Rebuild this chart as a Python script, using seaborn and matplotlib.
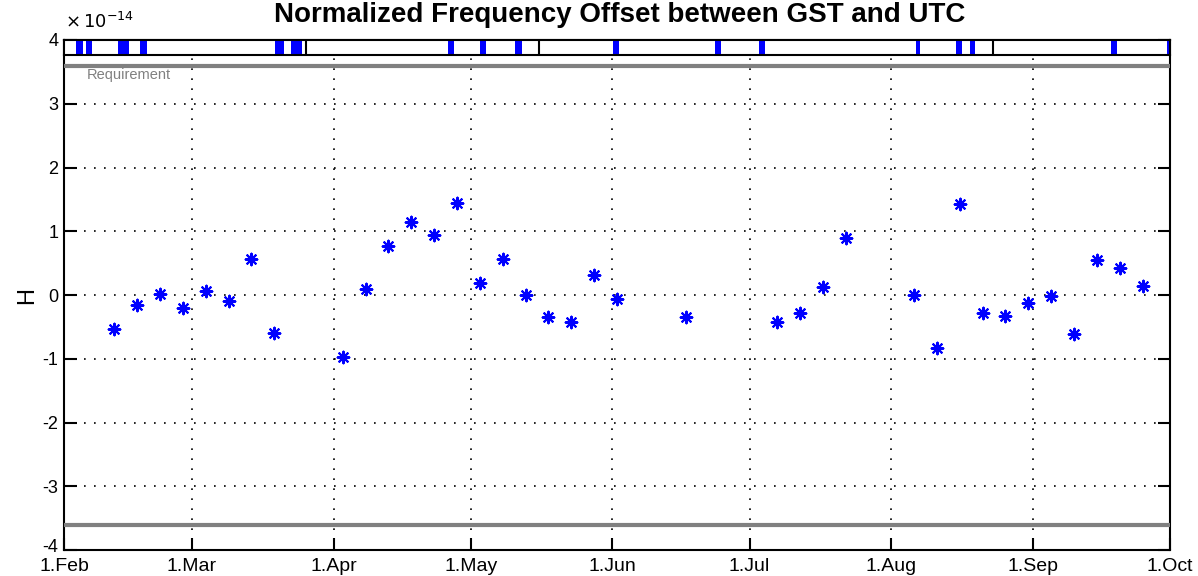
import numpy as np
import pandas as pd
import matplotlib
matplotlib.use("Agg")
import matplotlib.pyplot as plt
import matplotlib.dates as mdates
import matplotlib.transforms as mtransforms
import seaborn as sns

# ---- data -------------------------------------------------------------
dates = ["2015-02-12", "2015-02-17", "2015-02-22", "2015-02-27", "2015-03-04",
         "2015-03-09", "2015-03-14", "2015-03-19", "2015-04-03", "2015-04-08",
         "2015-04-13", "2015-04-18", "2015-04-23", "2015-04-28", "2015-05-03",
         "2015-05-08", "2015-05-13", "2015-05-18", "2015-05-23", "2015-05-28",
         "2015-06-02", "2015-06-17", "2015-07-07", "2015-07-12", "2015-07-17",
         "2015-07-22", "2015-08-06", "2015-08-11", "2015-08-16", "2015-08-21",
         "2015-08-26", "2015-08-31", "2015-09-05", "2015-09-10", "2015-09-15",
         "2015-09-20", "2015-09-25"]
offset_e14 = [-0.53, -0.16, 0.02, -0.20, 0.07, -0.10, 0.57, -0.60, -0.97, 0.10,
              0.77, 1.15, 0.94, 1.44, 0.19, 0.57, 0.00, -0.35, -0.43, 0.32,
              -0.07, -0.35, -0.43, -0.28, 0.12, 0.89, 0.00, -0.83, 1.42, -0.28,
              -0.33, -0.12, -0.02, -0.61, 0.55, 0.42, 0.14]

# events shown in the top strip: start (days after 1 Feb) and length (days)
event_start_day = [2.6, 4.8, 11.8, 16.6, 46.2, 49.7, 84.0, 91.0, 98.7, 120.1,
                   142.5, 152.0, 186.4, 195.2, 198.2, 229.1, 241.4]
event_len_day = [1.5, 1.3, 2.4, 1.6, 1.9, 2.4, 1.3, 1.3, 1.5, 1.3,
                 1.3, 1.4, 1.0, 1.3, 1.2, 1.3, 1.1]
period_breaks = ["2015-03-25 22:00", "2015-05-16 00:00", "2015-08-23 05:00"]

requirement = 3.6
x_start, x_end = "2015-02-01", "2015-10-01"
month_ticks = ["2015-02-01", "2015-03-01", "2015-04-01", "2015-05-01", "2015-06-01",
               "2015-07-01", "2015-08-01", "2015-09-01", "2015-10-01"]
y_ticks = [-4, -3, -2, -1, 0, 1, 2, 3, 4]

title = "Normalized Frequency Offset between GST and UTC"
ylabel = "H"
req_label = "Requirement"

# ---- style ------------------------------------------------------------
sns.set_style("white")
plt.rcParams["font.family"] = ["Liberation Sans", "DejaVu Sans"]
plt.rcParams["text.color"] = "black"
plt.rcParams["axes.labelcolor"] = "black"
plt.rcParams["xtick.color"] = "black"
plt.rcParams["ytick.color"] = "black"

df = pd.DataFrame({"date": pd.to_datetime(dates), "H": offset_e14})

fig = plt.figure(figsize=(11.98, 5.76), dpi=100)
L, R = 64 / 1198, 1170 / 1198
B, T = 26 / 576, 536 / 576
ax = fig.add_axes([L, B, R - L, T - B])

sns.scatterplot(data=df, x="date", y="H", ax=ax, marker=(8, 2, 0), s=70,
                color="#0000ff", edgecolor="#0000ff", linewidth=1.5, zorder=5)

t0, t1 = pd.Timestamp(x_start), pd.Timestamp(x_end)
ax.set_xlim(t0, t1)
ax.set_ylim(-4, 4)

ax.axhline(requirement, color="#808080", lw=3, zorder=3)
ax.axhline(-requirement, color="#808080", lw=3, zorder=3)
ax.text(t0 + pd.Timedelta(days=5), 3.45, req_label, color="#808080",
        fontsize=10.5, va="center", ha="left")

ax.set_xticks(pd.to_datetime(month_ticks))
ax.xaxis.set_major_formatter(plt.FuncFormatter(
    lambda v, p: f"{mdates.num2date(v).day}.{mdates.num2date(v):%b}"))
ax.set_yticks(y_ticks)
ax.set_yticklabels([str(v) for v in y_ticks])

ax.grid(True, color="black", linestyle=(0, (1, 5)), linewidth=1.2)
ax.tick_params(direction="in", length=9, width=1.5,
               left=True, right=True, bottom=True, top=False)
ax.tick_params(axis="x", pad=6, labelsize=14)
ax.tick_params(axis="y", pad=4, labelsize=13)
for s in ax.spines.values():
    s.set_color("black")
    s.set_linewidth(1.5)
ax.set_xlabel("")
ax.set_ylabel(ylabel, fontsize=17, labelpad=3)

# nudge the lowest y label up so it clears the first date label
lab = ax.get_yticklabels()[0]
lab.set_transform(lab.get_transform() +
                  mtransforms.ScaledTranslation(0, 5 / 100, fig.dpi_scale_trans))

# top event strip
sb = 55 / 576
sax = fig.add_axes([L, 1 - sb, R - L, sb - 40 / 576])
starts = [t0 + pd.Timedelta(days=d) for d in event_start_day]
widths = [pd.Timedelta(days=w) for w in event_len_day]
sax.bar(starts, [1] * len(starts), width=widths, align="edge",
        color="#0000ff", edgecolor="none")
for b in pd.to_datetime(period_breaks):
    sax.axvline(b, color="black", lw=1.5)
sax.set_xlim(t0, t1)
sax.set_ylim(0, 1)
sax.set_xticks([])
sax.set_yticks([])
for s in sax.spines.values():
    s.set_color("black")
    s.set_linewidth(1.5)

fig.text(L + 0.001, 1 - 22 / 576, r"$\times\,10^{-14}$", fontsize=13,
         ha="left", va="center")
fig.text(0.517, 1 - 15 / 576, title, fontsize=20, fontweight="bold",
         ha="center", va="center")

fig.savefig("out.png", dpi=100)
